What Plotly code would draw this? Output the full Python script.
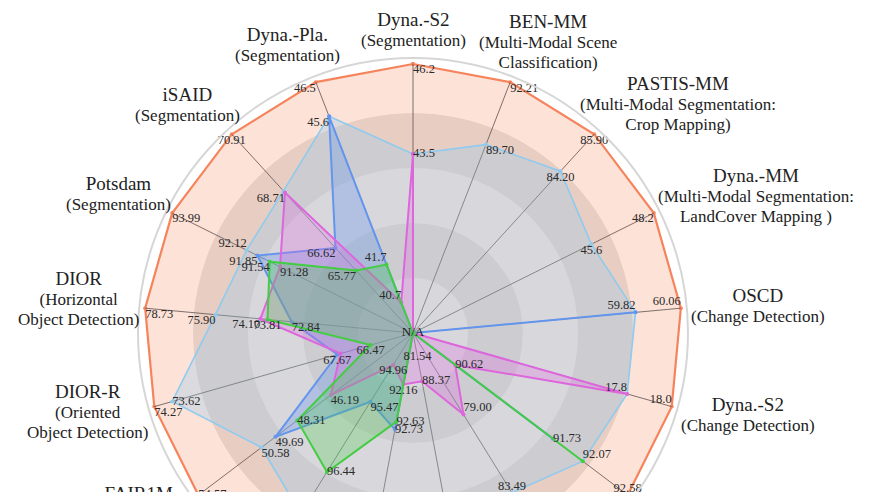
import math
import plotly.graph_objects as go

# ---------------- data ----------------
axis_titles = ["Dyna.-S2", "BEN-MM", "PASTIS-MM", "Dyna.-MM", "OSCD", "Dyna.-S2",
               "LEVIR-CD", "BEN-S2 (10%)", "BEN-S2 (100%)", "RESISC-45", "AID",
               "FAIR1M", "DIOR-R", "DIOR", "Potsdam", "iSAID", "Dyna.-Pla."]
axis_tasks = [["(Segmentation)"],
              ["(Multi-Modal Scene", "Classification)"],
              ["(Multi-Modal Segmentation:", "Crop Mapping)"],
              ["(Multi-Modal Segmentation:", "LandCover Mapping )"],
              ["(Change Detection)"], ["(Change Detection)"], ["(Change Detection)"],
              ["(Scene Classification)"], ["(Scene Classification)"],
              ["(Scene Classification)"], ["(Scene Classification)"],
              ["(Oriented", "Object Detection)"], ["(Oriented", "Object Detection)"],
              ["(Horizontal", "Object Detection)"],
              ["(Segmentation)"], ["(Segmentation)"], ["(Segmentation)"]]
# value sitting at the centre of each axis (per-axis scale minimum)
axis_floor = [38.13, 82.13, 76.78, 38.17, 58.64, 16.84, 90.14, 74.32, 87.54,
              91.51, 94.52, 40.99, 64.94, 67.96, 87.94, 63.41, 39.90]
axis_decimals = [1, 2, 2, 1, 2, 1, 2, 2, 2, 2, 2, 2, 2, 2, 2, 2, 1]

s_best = [46.2, 92.21, 85.90, 48.2, 60.06, 18.0, 92.58, 87.44, 92.09, 94.85,
          97.68, 54.57, 74.27, 78.73, 93.99, 70.91, 46.5]
s_second = [43.5, 89.70, 84.20, 45.6, 59.82, 17.8, 92.07, 83.49, 90.95, 94.02,
            97.02, 50.58, 73.62, 75.90, 92.12, 68.77, 45.6]
s_blue = [None, None, None, None, 59.82, None, 91.73, None, None, 92.73,
          95.47, 49.69, 67.67, 72.84, 91.85, 66.62, 45.6]
s_magenta = [43.5, None, None, None, None, 17.8, 90.62, 79.00, 88.37, 92.16,
             94.96, 46.19, 67.55, 74.10, 91.28, 68.71, 40.7]
s_green = [None, None, None, None, None, None, 92.07, None, None, 92.63,
           96.44, 48.31, 66.47, 73.81, 91.54, 65.77, 41.7]
center_note = "81.54"
na_text = "N/A"

# ---------------- style ----------------
FONT = "Liberation Serif"
N = len(axis_titles)
thetas = [i * 360.0 / N for i in range(N)]
R_MAX = 1.0223

def norm(vals):
    out = []
    for v, lo, hi in zip(vals, axis_floor, s_best):
        out.append(0.0 if v is None else (v - lo) / (hi - lo))
    return out

def labels(vals, hide=()):
    out = []
    for i, v in enumerate(vals):
        if v is None or i in hide:
            out.append("")
        else:
            out.append(f"{v:.{axis_decimals[i]}f}")
    return out

series = [
    # values, line color, fill color, width, hidden labels, text positions
    (s_best, "#f5845c", "rgba(245,132,92,0.24)", 2.2, (),
     ["bottom right", "bottom right", "bottom center", "bottom left", "top left",
      "top left", "top center", "top center", "top center", "top center",
      "top center", "middle right", "bottom right", "bottom right",
      "bottom right", "bottom center", "bottom left"]),
    (s_second, "#8ecbef", "rgba(142,203,239,0.30)", 1.6, (15,),
     ["middle right", "bottom right", "bottom center", "bottom center", "top left",
      "top left", "top right", "top center", "top center", "top center",
      "top center", "bottom right", "middle right", "bottom left",
      "top left", "bottom left", "bottom left"]),
    (s_blue, "#6495ed", "rgba(100,149,237,0.33)", 2.0, (4, 16),
     ["top center"] * 6 + ["middle right", "top center", "top center",
      "middle right", "bottom right", "bottom right", "bottom center",
      "bottom right", "bottom left", "bottom left", "bottom left"]),
    (s_magenta, "#dd66dd", "rgba(221,102,221,0.28)", 2.0, (0, 5, 12),
     ["top center"] * 6 + ["middle right", "top right", "middle right",
      "bottom center", "bottom center", "bottom right", "bottom center",
      "bottom left", "bottom right", "bottom left", "top left"]),
    (s_green, "#44cc44", "rgba(68,204,68,0.28)", 2.0, (6,),
     ["top center"] * 6 + ["top right", "top center", "top center",
      "middle right", "middle right", "middle right", "bottom center",
      "bottom center", "bottom left", "bottom left", "top left"]),
]

fig = go.Figure()

# concentric background bands
band_colors = ["#f9f9f9", "#e4e4e4", "#f9f9f9", "#e4e4e4", "#ffffff"]
nb = len(band_colors)
for k, c in enumerate(band_colors):
    fig.add_trace(go.Barpolar(r=[R_MAX / nb], base=[k * R_MAX / nb], theta=[0],
                              width=[360], marker=dict(color=c, line=dict(width=0)),
                              hoverinfo="skip"))

# spokes
sr, st = [], []
for t in thetas:
    sr += [0, 1, None]
    st += [t, t, None]

fills = []
for vals, lc, fc, w, hide, pos in series:
    r = norm(vals)
    fills.append(go.Scatterpolar(r=r + r[:1], theta=thetas + thetas[:1], mode="lines+markers",
                                 fill="toself", fillcolor=fc,
                                 line=dict(color=lc, width=w),
                                 marker=dict(size=4, color=lc),
                                 hoverinfo="skip"))

fig.add_trace(fills[0])
fig.add_trace(go.Scatterpolar(r=sr, theta=st, mode="lines",
                              line=dict(color="rgba(105,90,88,0.85)", width=1),
                              hoverinfo="skip"))
for f in fills[1:]:
    fig.add_trace(f)

for vals, lc, fc, w, hide, pos in series:
    fig.add_trace(go.Scatterpolar(r=norm(vals), theta=thetas, mode="text",
                                  text=labels(vals, hide), textposition=pos,
                                  textfont=dict(family=FONT, size=12.5, color="#2a2a2a"),
                                  hoverinfo="skip"))

fig.add_trace(go.Scatterpolar(r=[0], theta=[0], mode="text", text=[na_text],
                              textposition="middle center",
                              textfont=dict(family=FONT, size=13, color="#222"),
                              hoverinfo="skip"))
fig.add_trace(go.Scatterpolar(r=[0.09], theta=[thetas[8]], mode="text", text=[center_note],
                              textposition="middle center",
                              textfont=dict(family=FONT, size=12.5, color="#2a2a2a"),
                              hoverinfo="skip"))

W, H = 870, 660
cx, cy, R = 413, 333, 275
TITLE_PX, TASK_PX, LINE_PX = 19, 17, 20

# axis-name labels placed just outside the circle, block anchored continuously by angle
for t, title, task in zip(thetas, axis_titles, axis_tasks):
    a = math.radians(t)
    s, c = math.sin(a), math.cos(a)
    pad = 8 * abs(c)
    ax_ = cx + (R + pad) * s
    ay_ = cy - (R + pad) * c
    wblk = max([len(title) * TITLE_PX * 0.5] + [len(x) * TASK_PX * 0.46 for x in task])
    hblk = LINE_PX * (1 + len(task))
    px = ax_ + wblk / 2 * math.copysign(abs(s) ** 0.75, s)
    py = ay_ - hblk / 2 * c
    if s < -0.2:
        py -= 6
        px += 6 * abs(s)
    text = (f"<span style='font-size:{TITLE_PX}px'>{title}</span><br>"
            + "<br>".join(f"<span style='font-size:{TASK_PX}px'>{x}</span>" for x in task))
    fig.add_annotation(x=px / W, y=1 - py / H, xref="paper", yref="paper",
                       xanchor="center", yanchor="middle", align="center",
                       showarrow=False, text=text,
                       font=dict(family=FONT, size=15.4, color="#222"))

fig.update_layout(
    width=W, height=H,
    margin=dict(l=0, r=0, t=0, b=0),
    paper_bgcolor="white",
    showlegend=False,
    polar=dict(
        domain=dict(x=[(cx - R) / W, (cx + R) / W],
                    y=[1 - (cy + R) / H, 1 - (cy - R) / H]),
        bgcolor="white",
        barmode="overlay",
        radialaxis=dict(range=[0, R_MAX], visible=False, showgrid=False),
        angularaxis=dict(rotation=90, direction="clockwise", tickmode="array",
                         tickvals=thetas, showticklabels=False, showgrid=False,
                         showline=True, linecolor="#d6d6d6", linewidth=2, ticks=""),
    ),
)

fig.write_html("out.html", config={"displayModeBar": False},
               post_script="document.body.style.margin='0';document.body.style.overflow='hidden';")
